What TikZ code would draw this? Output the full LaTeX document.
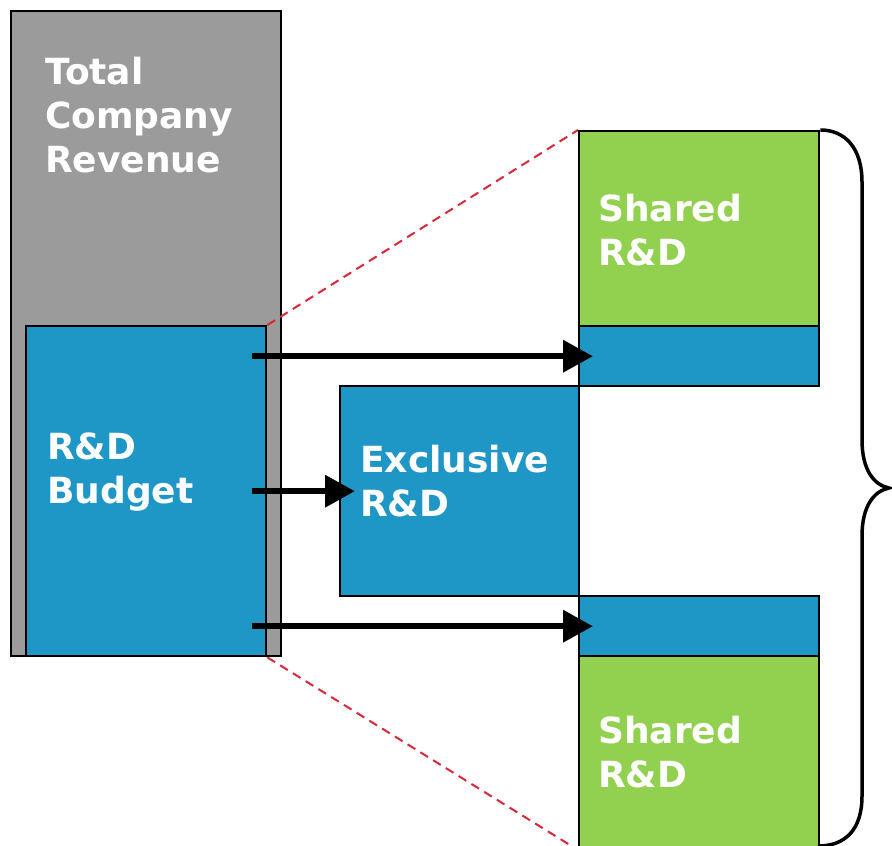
\documentclass[tikz,border=0pt]{standalone}
\usepackage{fontspec}
\setmainfont{DejaVu Sans}
\usetikzlibrary{arrows.meta,calc}

\definecolor{revgrey}{HTML}{9B9B9B}
\definecolor{rdblue}{HTML}{1F97C6}
\definecolor{rdgreen}{HTML}{92D050}
\definecolor{zoomred}{HTML}{D8283A}

\begin{document}
\begin{tikzpicture}[x=1pt, y=-1pt,
        box/.style={draw=black, line width=2.4pt, inner sep=0pt, anchor=north west},
        caption/.style={text=white, font=\bfseries\fontsize{36}{44}\selectfont,
            align=left, inner sep=0pt, anchor=base west},
        flow/.style={line width=6.5pt, -{Triangle[length=30pt, width=31pt]}},
        zoomline/.style={draw=zoomred, line width=2pt, dash pattern=on 9pt off 6pt}]

    \useasboundingbox (0,0) rectangle (892,846);

    % revenue column with the R&D part inside
    \node[box, fill=revgrey, minimum width=270, minimum height=645] (revenue) at (10,10) {};
    \node[box, fill=rdblue, minimum width=240, minimum height=330] (budget) at (25,325) {};

    % dashed zoom lines
    \draw[zoomline] (budget.north east) -- (578,130);
    \draw[zoomline] (budget.south east) -- (578,850);

    % split of the budget
    \node[box, fill=rdgreen, minimum width=240, minimum height=195] (topshared) at (578,130) {};
    \node[box, fill=rdblue, minimum width=240, minimum height=60] (topbar) at (578,325) {};
    \node[box, fill=rdblue, minimum width=239, minimum height=210] (exclusive) at (339,385) {};
    \node[box, fill=rdblue, minimum width=240, minimum height=60] (botbar) at (578,595) {};
    \node[box, fill=rdgreen, minimum width=240, minimum height=200] (botshared) at (578,655) {};

    % texts (placed at the baseline of their last line)
    \node[caption] (revtext) at (45,172) {Total\\Company\\Revenue};
    \node[caption] (budgettext) at (47,503) {R\&D\\Budget};
    \node[caption] (exclusivetext) at (360,516) {Exclusive\\R\&D};
    \node[caption] (toptext) at (598,265) {Shared\\R\&D};
    \node[caption] (bottext) at (598,787) {Shared\\R\&D};

    % arrows
    \draw[flow] ($(budget.east |- topbar.west)+(-15,0)$) -- ($(topbar.west)+(15,0)$);
    \draw[flow] ($(budget.east)+(-15,0)$) -- ($(exclusive.west)+(16,0)$);
    \draw[flow] ($(budget.east |- botbar.west)+(-15,0)$) -- ($(botbar.west)+(15,0)$);

    % brace
    \draw[line width=3.5pt] (topshared.north east)
        .. controls (845,130) and (862,148) .. (862,182) -- (862,440)
        .. controls (862,470) and (874,485) .. (889,488)
        .. controls (874,491) and (862,506) .. (862,536) -- (862,796)
        .. controls (862,830) and (845,846) .. (818,846);
\end{tikzpicture}
\end{document}
